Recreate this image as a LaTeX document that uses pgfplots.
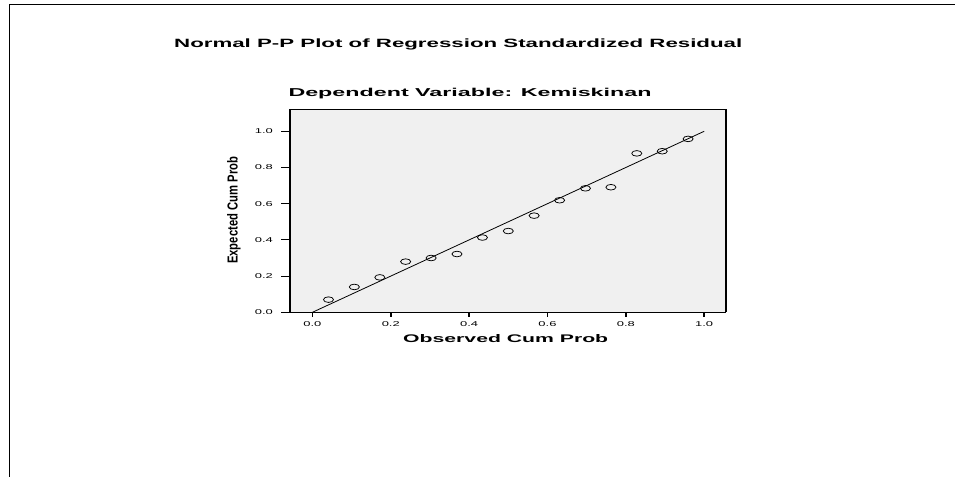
\documentclass[border=0pt]{standalone}
\usepackage{fontspec}
\setmainfont{Liberation Sans}
\usepackage{graphicx}
\usepackage{pgfplots}
\pgfplotsset{compat=1.18}
\definecolor{bgc}{RGB}{240,240,240}
\pgfplotstableread{
x y
0.041 0.070
0.107 0.140
0.172 0.193
0.238 0.280
0.303 0.300
0.369 0.322
0.434 0.413
0.500 0.449
0.566 0.534
0.631 0.619
0.697 0.685
0.762 0.691
0.828 0.878
0.893 0.890
0.959 0.958
}\pp
\begin{document}
\begin{tikzpicture}
\path[use as bounding box] (0,0) rectangle (955bp,-477bp);
\draw[line width=1.2bp] (9.5bp,-477bp) -- (9.5bp,-4.5bp) -- (955bp,-4.5bp);
\begin{axis}[
  at={(289.7bp,-312.3bp)}, anchor=south west,
  scale only axis, width=436bp, height=203bp,
  xmin=-0.058, xmax=1.055, ymin=0, ymax=1.1215,
  xtick={0,0.2,0.4,0.6,0.8,1}, ytick={0,0.2,0.4,0.6,0.8,1},
  major tick length=0pt,
  tick style={draw=none},
  axis background/.style={fill=bgc},
  axis line style={line width=0.9bp},
  clip=false,
  /pgf/number format/assume math mode=true,
  /pgf/number format/fixed,
  /pgf/number format/fixed zerofill,
  /pgf/number format/precision=1,
  xticklabel style={font=\fontsize{7bp}{8bp}\selectfont, inner sep=0pt, anchor=north, yshift=-9.4bp, xscale=1.85},
  yticklabel style={font=\fontsize{7bp}{8bp}\selectfont, inner sep=0pt, anchor=east, xshift=-16.4bp, xscale=1.85},
]
\addplot[black, line width=0.8bp, no marks] coordinates {(0,0) (1,1)};
\addplot[only marks, mark=o, mark size=2.8bp, mark options={xscale=1.8, line width=0.75bp, black}] table[x=x,y=y] {\pp};
\pgfplotsinvokeforeach{0,0.2,0.4,0.6,0.8,1}{
  \draw[line width=1.6bp] (axis cs:#1,0) -- ++(0pt,-4.5bp);
  \draw[line width=0.9bp] (axis cs:-0.058,#1) -- ++(-9bp,0pt);
}
\draw[line width=2bp] (rel axis cs:0,0) -- (rel axis cs:0,1);
\draw[line width=2bp] (rel axis cs:1,0) -- (rel axis cs:1,1);
\end{axis}
\node[anchor=base west, inner sep=0pt] at (174bp,-47.7bp) {\resizebox{568bp}{8.7bp}{\bfseries Normal P-P Plot of Regression Standardized Residual}};
\node[anchor=base west, inner sep=0pt] at (288.3bp,-96.3bp) {\resizebox{363bp}{8.3bp}{\bfseries Dependent Variable: Kemiskinan}};
\node[anchor=base west, inner sep=0pt] at (403bp,-342.5bp) {\resizebox{205bp}{8bp}{\bfseries Observed Cum Prob}};
\node[anchor=base, inner sep=0pt, rotate=90] at (237.5bp,-210.3bp) {\resizebox{107bp}{10.5bp}{\bfseries Expected Cum Prob}};
\end{tikzpicture}
\end{document}
